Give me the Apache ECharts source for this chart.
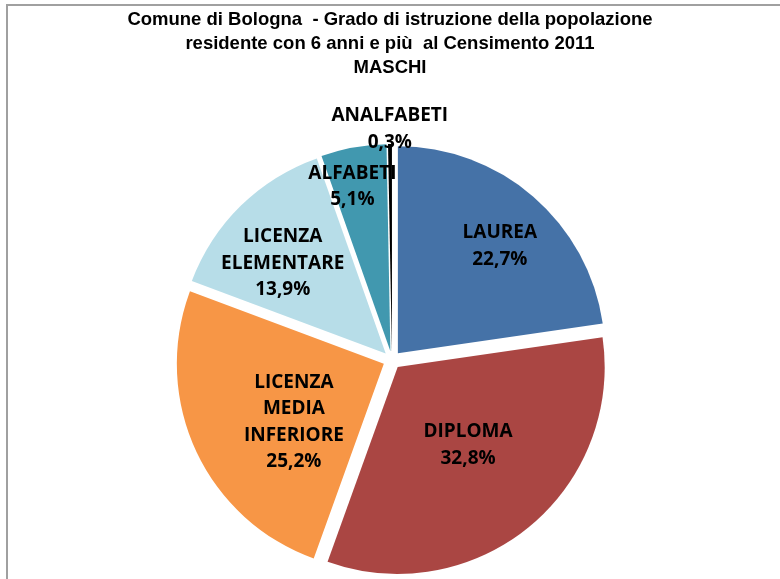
<!DOCTYPE html>
<html>
<head>
<meta charset="utf-8">
<script src="https://cdn.jsdelivr.net/npm/echarts@6/dist/echarts.min.js"></script>
<style>
  html, body { margin: 0; padding: 0; background: #fff; overflow: hidden; }
  #chart { width: 780px; height: 579px; }
</style>
</head>
<body>
<div id="chart"></div>
<script>
// data
const categories = ['LAUREA', 'DIPLOMA', 'LICENZA\nMEDIA\nINFERIORE', 'LICENZA\nELEMENTARE', 'ALFABETI', 'ANALFABETI']
const values = [22.7, 32.8, 25.2, 13.9, 5.1, 0.3]

const palette = ['#4572a7', '#aa4643', '#f79646', '#b7dde8', '#4198af', '#000000']
// label placement: distance from pie centre (px) and small turn from the slice bisector (deg)
const labelRadius = [157, 114, 116, 146, 178, 231]
const labelTurn = [2.5, -2.6, -7.4, -4, -2.6, 0]

const cx = 392
const cy = 360
const total = values.reduce((a, b) => a + b, 0)

function midAngle(i) {
  let cum = 0
  for (let k = 0; k < i; k++) cum += values[k]
  return (cum + values[i] / 2) / total * Math.PI * 2
}

const chart = echarts.init(document.getElementById('chart'))

chart.setOption({
  animation: false,
  title: {
    text: 'Comune di Bologna  - Grado di istruzione della popolazione\nresidente con 6 anni e più  al Censimento 2011\nMASCHI',
    left: 'center',
    top: 8,
    padding: 0,
    textStyle: {
      fontFamily: 'Liberation Sans',
      fontWeight: 'bold',
      fontSize: 18.5,
      lineHeight: 24,
      color: '#000'
    }
  },
  graphic: [
    {
      type: 'rect',
      shape: { x: 7, y: 5, width: 900, height: 700 },
      style: { fill: 'none', stroke: '#a0a0a0', lineWidth: 2 },
      silent: true
    }
  ],
  series: [
    {
      // exploded slices
      type: 'pie',
      center: [cx, cy],
      radius: 207,
      startAngle: 90,
      clockwise: true,
      selectedMode: 'multiple',
      selectedOffset: 9,
      emphasis: { disabled: true },
      label: { show: false },
      labelLine: { show: false },
      data: categories.map((name, i) => ({
        name,
        value: values[i],
        selected: true,
        itemStyle: { color: palette[i] },
        select: { itemStyle: { color: palette[i] } }
      }))
    },
    {
      // labels only (transparent copy of the pie)
      type: 'pie',
      center: [cx, cy],
      radius: 207,
      startAngle: 90,
      clockwise: true,
      silent: true,
      avoidLabelOverlap: false,
      itemStyle: { color: 'rgba(0,0,0,0)' },
      emphasis: { disabled: true },
      label: {
        show: true,
        position: 'outside',
        color: '#000',
        fontFamily: 'Open Sans',
        fontWeight: 'bold',
        fontSize: 19,
        lineHeight: 26.5,
        align: 'center',
        formatter: p => p.name + '\n' + p.value.toFixed(1).replace('.', ',') + '%'
      },
      labelLine: { show: false },
      labelLayout: params => {
        const i = params.dataIndex
        const a = midAngle(i) + labelTurn[i] * Math.PI / 180
        return {
          x: cx + labelRadius[i] * Math.sin(a),
          y: cy - labelRadius[i] * Math.cos(a),
          align: 'center',
          verticalAlign: 'middle'
        }
      },
      data: categories.map((name, i) => ({ name, value: values[i] }))
    }
  ]
})
</script>
</body>
</html>
